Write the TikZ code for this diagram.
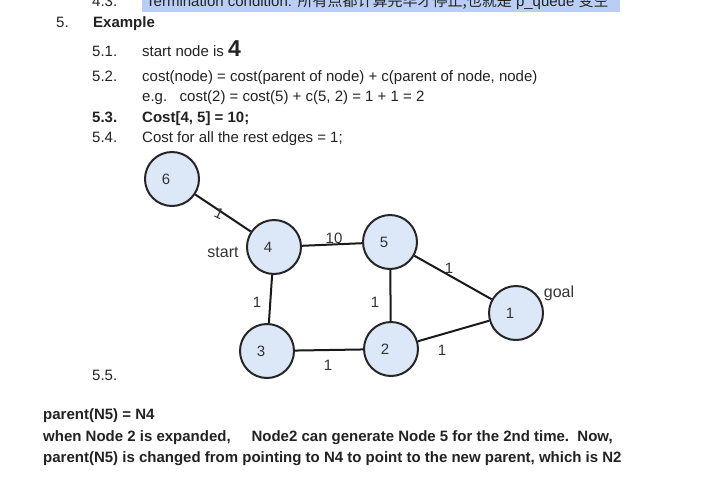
\documentclass[tikz,border=0pt]{standalone}
\usepackage{fontspec}
\setmainfont{Liberation Sans}
\newfontfamily\cjkfont{Noto Sans CJK SC}
\definecolor{nodeblue}{HTML}{DCE8F8}
\definecolor{hlblue}{HTML}{B9CEF4}
\definecolor{inkgray}{HTML}{222222}
\begin{document}
\begin{tikzpicture}[x=1pt,y=-1pt,
  txt/.style={anchor=base west,inner sep=0pt,font=\fontsize{15}{18}\selectfont,text=inkgray},
  btxt/.style={anchor=base west,inner sep=0pt,font=\fontsize{15}{18}\selectfont\bfseries,text=inkgray},
  gnode/.style={circle,draw=black!85,line width=2pt,fill=nodeblue,minimum size=54pt,inner sep=0pt},
  glab/.style={inner sep=0pt,font=\fontsize{15}{18}\selectfont,text=black!80},
  tlab/.style={inner sep=0pt,font=\fontsize{16}{18}\selectfont,text=black!80},
  edge/.style={draw=black!90,line width=2pt}]
\useasboundingbox[fill=white] (0,0) rectangle (701,485);
% highlighted cut-off first line
\fill[hlblue] (142,0) rectangle (620,12);
\node[txt] (t43n) at (92,6) {4.3.};
\node[txt] (t43) at (146,6) {Termination condition: {\cjkfont 所有点都计算完毕才停止,也就是} p\_queue {\cjkfont 变空}};
% list
\node[txt] (t5n) at (56,27) {5.};
\node[btxt] (t5) at (93,27) {Example};
\node[txt] (t51n) at (92,56) {5.1.};
\node[txt] (t51) at (142,56) {start node is};
\node[anchor=base west,inner sep=0pt,font=\fontsize{23}{26}\selectfont\bfseries,text=inkgray] (t51b) at (t51.base east) {\,4};
\node[txt] (t52n) at (92,81) {5.2.};
\node[txt] (t52) at (142,81) {cost(node) = cost(parent of node) + c(parent of node, node)};
\node[txt] (t52b) at (142,101) {e.g.\ \ \ cost(2) = cost(5) + c(5, 2) = 1 + 1 = 2};
\node[btxt] (t53n) at (92,122) {5.3.};
\node[btxt] (t53) at (142,122) {Cost[4, 5] = 10;};
\node[txt] (t54n) at (92,142) {5.4.};
\node[txt] (t54) at (142,142) {Cost for all the rest edges = 1;};
\node[txt] (t55n) at (92,380) {5.5.};
% graph
\node[gnode] (n6) at (172,179) {};
\node[gnode] (n4) at (274,247) {};
\node[gnode] (n5) at (390,242) {};
\node[gnode] (n1) at (516,313) {};
\node[gnode] (n3) at (267,351) {};
\node[gnode] (n2) at (391,349) {};
\draw[edge] (n6) -- (n4);
\draw[edge] (n4) -- (n5);
\draw[edge] (n5) -- (n1);
\draw[edge] (n4) -- (n3);
\draw[edge] (n5) -- (n2);
\draw[edge] (n3) -- (n2);
\draw[edge] (n2) -- (n1);
\node[glab] (l6) at ([xshift=-6pt]n6.center) {6};
\node[glab] (l4) at ([xshift=-6pt]n4.center) {4};
\node[glab] (l5) at ([xshift=-6pt]n5.center) {5};
\node[glab] (l1) at ([xshift=-6pt]n1.center) {1};
\node[glab] (l3) at ([xshift=-6pt]n3.center) {3};
\node[glab] (l2) at ([xshift=-6pt]n2.center) {2};
\node[glab,rotate=-25] (e64) at (219,214) {1};
\node[glab] (e45) at (334,238) {10};
\node[glab] (e51) at (449,268) {1};
\node[glab] (e43) at (257,302) {1};
\node[glab] (e52) at (375,302) {1};
\node[glab] (e32) at (328,365) {1};
\node[glab] (e21) at (442,350) {1};
\node[tlab] (start) at (223,252) {start};
\node[tlab] (goal) at (559,293) {goal};
% bottom text
\node[btxt] (b1) at (43,419) {parent(N5) = N4};
\node[btxt] (b2) at (43,441) {when Node 2 is expanded,\ \ \ \ \ Node2 can generate Node 5 for the 2nd time.\ \ Now,};
\node[btxt] (b3) at (43,462) {parent(N5) is changed from pointing to N4 to point to the new parent, which is N2};
\end{tikzpicture}
\end{document}
